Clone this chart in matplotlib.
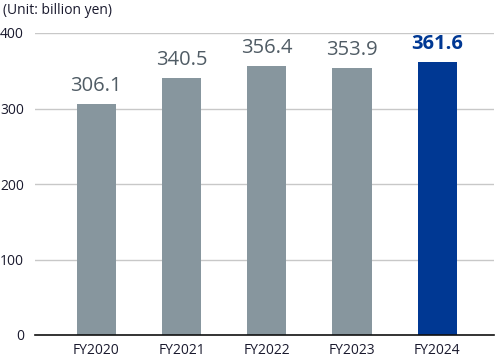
import matplotlib
matplotlib.use("Agg")
import matplotlib.pyplot as plt

categories = ["FY2020", "FY2021", "FY2022", "FY2023", "FY2024"]
values = [306.1, 340.5, 356.4, 353.9, 361.6]
yticks = [0, 100, 200, 300, 400]

plt.rcParams['font.family'] = ['Open Sans', 'DejaVu Sans']

fig = plt.figure(figsize=(4.96, 3.6), dpi=100)
W, H = 496, 360
ax = fig.add_axes([35 / W, (H - 335) / H, (494 - 35) / W, (335 - 33) / H])

colors = ["#87969e"] * 4 + ["#003893"]
x = list(range(len(categories)))
ax.bar(x, values, width=0.46, color=colors, zorder=3)

ax.set_xlim(-0.72, 4.665)
ax.set_ylim(0, 400)
ax.set_yticks(yticks)
ax.set_yticklabels([str(t) for t in yticks])
ax.set_xticks(x)
ax.set_xticklabels(categories)
ax.tick_params(axis='both', length=0, labelsize=10, colors="#1a1a2e")
ax.tick_params(axis='y', pad=8)
ax.tick_params(axis='x', pad=6)
for lab in ax.get_yticklabels():
    lab.set_horizontalalignment('right')

ax.grid(axis='y', color="#c8c8c8", linewidth=1, zorder=0)
for s in ["top", "right", "left"]:
    ax.spines[s].set_visible(False)
ax.spines["bottom"].set_color("#111111")
ax.spines["bottom"].set_linewidth(1.2)
ax.spines["bottom"].set_zorder(4)

for i, v in enumerate(values):
    last = i == len(values) - 1
    ax.text(i, v + 10, f"{v:.1f}", ha="center", va="bottom",
            fontsize=14.5, color="#003893" if last else "#505c65",
            fontweight="bold" if last else "medium")

fig.text(3 / W, 1 - 10 / H, "(Unit: billion yen)", ha="left", va="center",
         fontsize=10, color="#1a1a2e")

fig.savefig("out.png", dpi=100)
